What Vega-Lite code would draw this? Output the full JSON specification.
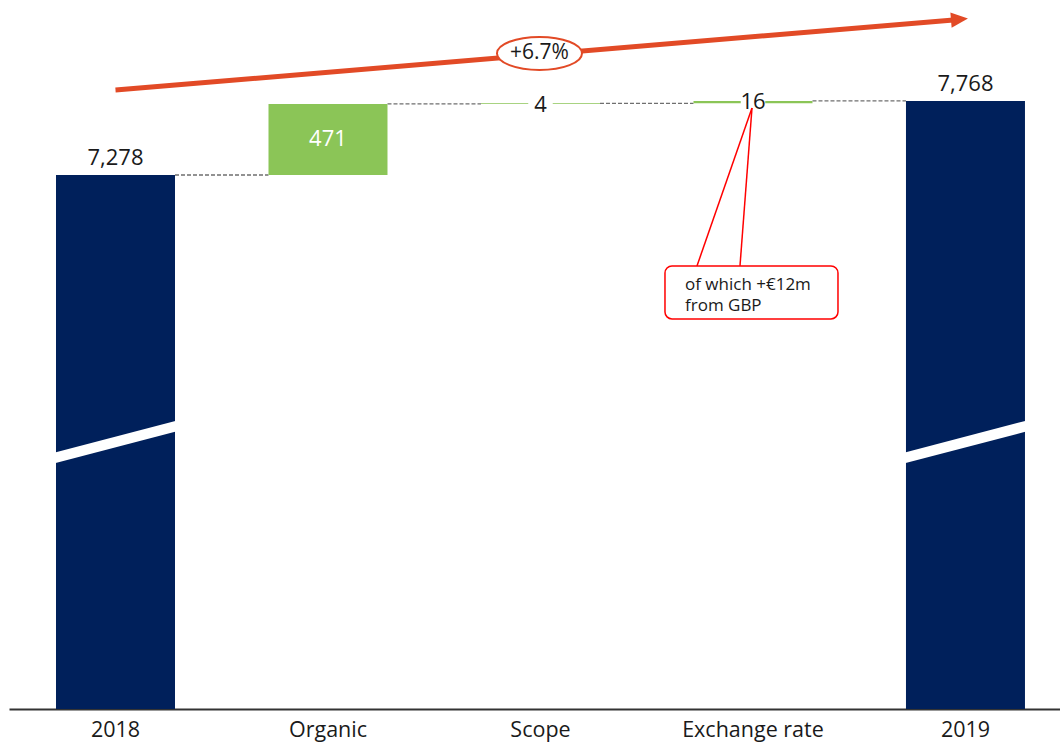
{
  "$schema": "https://vega.github.io/schema/vega-lite/v6.json",
  "width": 1051,
  "height": 709,
  "autosize": {"type": "none"},
  "padding": {"left": 9, "top": 0, "right": 0, "bottom": 34},
  "background": "white",
  "config": {"view": {"stroke": null}, "font": "Open Sans"},
  "datasets": {
    "wf": [
      {"cat": "2018", "next": "Organic", "start": 0, "end": 7278, "kind": "total", "label": "7,278"},
      {"cat": "Organic", "next": "Scope", "start": 7278, "end": 7749, "kind": "delta", "label": "471"},
      {"cat": "Scope", "next": "Exchange rate", "start": 7749, "end": 7753, "kind": "delta", "label": "4"},
      {"cat": "Exchange rate", "next": "2019", "start": 7753, "end": 7769, "kind": "delta", "label": "16"},
      {"cat": "2019", "next": null, "start": 0, "end": 7768, "kind": "total", "label": "7,768"}
    ],
    "breaks": [
      {"cat": "2018", "lo": 5399, "hi": 5621},
      {"cat": "2019", "lo": 5399, "hi": 5621}
    ],
    "arrow": [{"cat": "2018", "to": "2019", "y1": 7841, "y2": 8305}],
    "arrowhead": [{"cat": "2019", "y": 8309}],
    "growth": [{"cat": "Scope", "y": 8083, "label": "+6.7%"}],
    "callout": [{"cat": "Exchange rate", "from": 7722, "top": 6676, "bottom": 6325, "texty": 6600, "text": "of which +€12m\nfrom GBP"}]
  },
  "encoding": {
    "x": {
      "field": "cat",
      "type": "nominal",
      "title": null,
      "scale": {"domain": ["2018", "Organic", "Scope", "Exchange rate", "2019"], "paddingInner": 0.44, "paddingOuter": 0.193, "align": 0.573, "round": false},
      "axis": {"labelAngle": 0, "ticks": false, "labelFont": "Open Sans", "labelFontSize": 21.5, "labelColor": "#1a1a1a", "labelPadding": 10, "domainColor": "#333333", "domainWidth": 2, "grid": false}
    }
  },
  "layer": [
    {
      "data": {"name": "wf"},
      "transform": [{"filter": "datum.next != null"}],
      "mark": {"type": "rule", "color": "#6f6f6f", "strokeWidth": 1.3, "strokeDash": [4, 2], "xOffset": 59.5, "x2Offset": -59.5},
      "encoding": {
        "x2": {"field": "next"},
        "y": {"field": "end", "type": "quantitative", "scale": {"domain": [3742, 8437], "nice": false, "zero": false}, "axis": null}
      }
    },
    {
      "data": {"name": "wf"},
      "mark": {"type": "bar", "clip": true, "minBandSize": 1.2},
      "encoding": {
        "y": {"field": "end", "type": "quantitative", "scale": {"domain": [3742, 8437], "nice": false, "zero": false}, "axis": null},
        "y2": {"field": "start"},
        "color": {"field": "kind", "type": "nominal", "scale": {"domain": ["total", "delta"], "range": ["#00205B", "#8BC557"]}, "legend": null}
      }
    },
    {
      "data": {"name": "breaks"},
      "mark": {"type": "rule", "color": "white", "strokeWidth": 10.5, "xOffset": -64, "x2Offset": 64},
      "encoding": {
        "x2": {"field": "cat"},
        "y": {"field": "lo", "type": "quantitative", "scale": {"domain": [3742, 8437], "nice": false, "zero": false}, "axis": null},
        "y2": {"field": "hi"}
      }
    },
    {
      "data": {"name": "wf"},
      "transform": [{"filter": "datum.kind == 'total'"}],
      "mark": {"type": "text", "fontSize": 22, "color": "#1a1a1a", "dy": -17, "font": "Open Sans"},
      "encoding": {
        "y": {"field": "end", "type": "quantitative", "scale": {"domain": [3742, 8437], "nice": false, "zero": false}, "axis": null},
        "text": {"field": "label"}
      }
    },
    {
      "data": {"name": "wf"},
      "transform": [{"filter": "datum.cat == 'Organic'"}],
      "mark": {"type": "text", "fontSize": 22, "color": "white", "dy": 35, "font": "Open Sans"},
      "encoding": {
        "y": {"field": "end", "type": "quantitative", "scale": {"domain": [3742, 8437], "nice": false, "zero": false}, "axis": null},
        "text": {"field": "label"}
      }
    },
    {
      "data": {"name": "wf"},
      "transform": [{"filter": "datum.cat == 'Scope' || datum.cat == 'Exchange rate'"}],
      "mark": {"type": "point", "shape": "square", "filled": true, "color": "white", "opacity": 1, "size": 600},
      "encoding": {
        "y": {"field": "end", "type": "quantitative", "scale": {"domain": [3742, 8437], "nice": false, "zero": false}, "axis": null}
      }
    },
    {
      "data": {"name": "wf"},
      "transform": [{"filter": "datum.cat == 'Scope' || datum.cat == 'Exchange rate'"}],
      "mark": {"type": "text", "fontSize": 22, "color": "#1a1a1a", "dy": 1.5, "font": "Open Sans"},
      "encoding": {
        "y": {"field": "end", "type": "quantitative", "scale": {"domain": [3742, 8437], "nice": false, "zero": false}, "axis": null},
        "text": {"field": "label"}
      }
    },
    {
      "data": {"name": "arrow"},
      "mark": {"type": "rule", "color": "#E24A26", "strokeWidth": 5, "x2Offset": -12},
      "encoding": {
        "x2": {"field": "to"},
        "y": {"field": "y1", "type": "quantitative", "scale": {"domain": [3742, 8437], "nice": false, "zero": false}, "axis": null},
        "y2": {"field": "y2"}
      }
    },
    {
      "data": {"name": "arrowhead"},
      "mark": {"type": "point", "shape": "M -1 -0.9 L 1 0 L -1 0.9 Z", "filled": true, "color": "#E24A26", "opacity": 1, "size": 289, "angle": 355.2, "xOffset": -6},
      "encoding": {
        "y": {"field": "y", "type": "quantitative", "scale": {"domain": [3742, 8437], "nice": false, "zero": false}, "axis": null}
      }
    },
    {
      "data": {"name": "growth"},
      "mark": {"type": "point", "shape": "M -1 0 C -1 -0.2143 -0.5523 -0.388 0 -0.388 C 0.5523 -0.388 1 -0.2143 1 0 C 1 0.2143 0.5523 0.388 0 0.388 C -0.5523 0.388 -1 0.2143 -1 0 Z", "filled": true, "fill": "white", "stroke": "#E24A26", "strokeWidth": 2, "opacity": 1, "fillOpacity": 1, "size": 7225, "xOffset": -1},
      "encoding": {
        "y": {"field": "y", "type": "quantitative", "scale": {"domain": [3742, 8437], "nice": false, "zero": false}, "axis": null}
      }
    },
    {
      "data": {"name": "growth"},
      "mark": {"type": "text", "fontSize": 21, "color": "#1a1a1a", "font": "Open Sans", "xOffset": -1},
      "encoding": {
        "y": {"field": "y", "type": "quantitative", "scale": {"domain": [3742, 8437], "nice": false, "zero": false}, "axis": null},
        "text": {"field": "label"}
      }
    },
    {
      "data": {"name": "callout"},
      "mark": {"type": "rule", "color": "#FF0000", "strokeWidth": 1.5, "xOffset": -1, "x2Offset": -56},
      "encoding": {
        "x2": {"field": "cat"},
        "y": {"field": "from", "type": "quantitative", "scale": {"domain": [3742, 8437], "nice": false, "zero": false}, "axis": null},
        "y2": {"field": "top"}
      }
    },
    {
      "data": {"name": "callout"},
      "mark": {"type": "rule", "color": "#FF0000", "strokeWidth": 1.5, "xOffset": -1, "x2Offset": -13},
      "encoding": {
        "x2": {"field": "cat"},
        "y": {"field": "from", "type": "quantitative", "scale": {"domain": [3742, 8437], "nice": false, "zero": false}, "axis": null},
        "y2": {"field": "top"}
      }
    },
    {
      "data": {"name": "callout"},
      "mark": {"type": "bar", "width": 173, "xOffset": -1.5, "fill": "white", "stroke": "#FF0000", "strokeWidth": 1.5, "cornerRadius": 7},
      "encoding": {
        "y": {"field": "top", "type": "quantitative", "scale": {"domain": [3742, 8437], "nice": false, "zero": false}, "axis": null},
        "y2": {"field": "bottom"}
      }
    },
    {
      "data": {"name": "callout"},
      "mark": {"type": "text", "fontSize": 17, "color": "#1a1a1a", "font": "Open Sans", "align": "left", "baseline": "top", "lineBreak": "\n", "lineHeight": 21, "xOffset": -68},
      "encoding": {
        "y": {"field": "texty", "type": "quantitative", "scale": {"domain": [3742, 8437], "nice": false, "zero": false}, "axis": null},
        "text": {"field": "text"}
      }
    }
  ]
}
